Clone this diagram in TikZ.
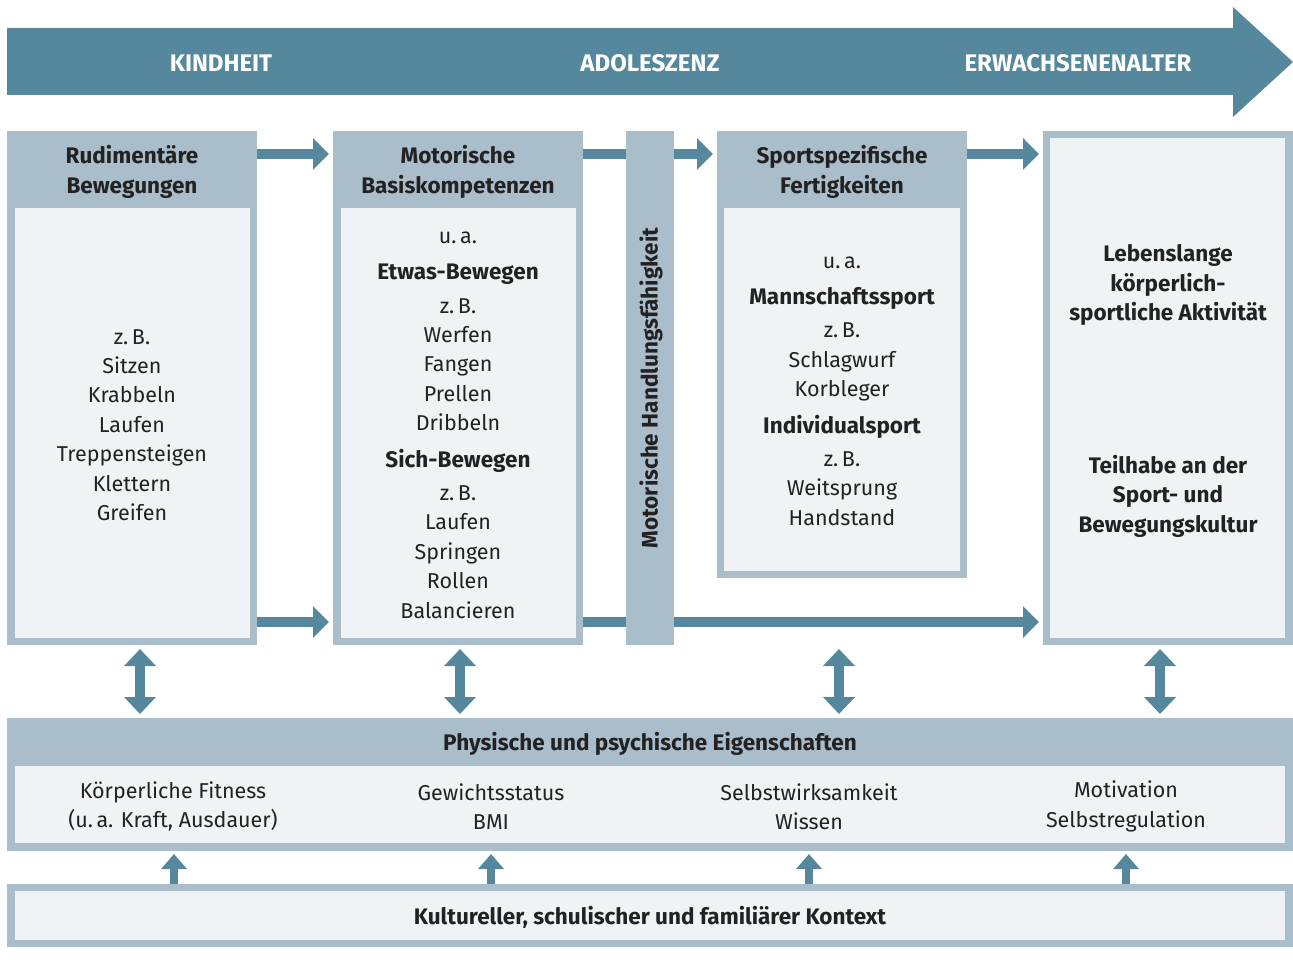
\documentclass[tikz,border=0pt]{standalone}
\usepackage{fontspec}
\setmainfont{Fira Sans}
\usetikzlibrary{arrows.meta}
\definecolor{teal}{HTML}{55889D}
\definecolor{boxc}{HTML}{AABDCB}
\definecolor{innerc}{HTML}{EFF3F6}
\definecolor{txt}{HTML}{222222}
\newcommand{\bt}[1]{{\fontsize{22.5}{29.4}\selectfont\bfseries #1}}
\tikzset{
  outerbox/.style={fill=boxc, draw=none, inner sep=0pt, anchor=north west},
  innerbox/.style={fill=innerc, draw=none},
  body/.style={font=\fontsize{21.5}{29.4}\selectfont, text=txt, align=center, inner sep=0pt},
  head/.style={font=\fontsize{22.5}{29.4}\selectfont\bfseries, text=txt, align=center, inner sep=0pt},
  age/.style={font=\fontsize{24}{28}\selectfont\bfseries, text=white, inner sep=0pt},
  arr/.style={draw=teal, line width=10pt, -{Triangle[length=16pt,width=31pt]}},
  link/.style={draw=teal, line width=10pt},
  darr/.style={draw=teal, line width=10pt, {Triangle[length=17pt,width=31pt]}-{Triangle[length=17pt,width=31pt]}},
  uarr/.style={draw=teal, line width=8pt, -{Triangle[length=15pt,width=25pt]}},
}
\begin{document}
\begin{tikzpicture}[x=1pt,y=-1pt]
\useasboundingbox (0,0) rectangle (1293,973);
% top timeline arrow
\fill[teal] (7,28) -- (1233,28) -- (1233,7) -- (1293,62) -- (1233,117) -- (1233,95) -- (7,95) -- cycle;
\node[age] (kind) at (221,63) {KINDHEIT};
\node[age] (adol) at (650,63) {ADOLESZENZ};
\node[age] (erw) at (1078,63) {ERWACHSENENALTER};

% boxes
\node[outerbox, minimum width=250pt, minimum height=514pt] (b1) at (7,131) {};
\fill[innerbox] (15,208) rectangle (250,638);
\node[outerbox, minimum width=250pt, minimum height=514pt] (b2) at (333,131) {};
\fill[innerbox] (341,208) rectangle (576,638);
\node[outerbox, minimum width=48pt, minimum height=514pt] (bar) at (626,131) {};
\node[outerbox, minimum width=250pt, minimum height=447pt] (b3) at (717,131) {};
\fill[innerbox] (724,208) rectangle (960,571);
\node[outerbox, minimum width=250pt, minimum height=514pt] (b5) at (1043,131) {};
\fill[innerbox] (1050,138) rectangle (1285,638);

% headers
\node[head] (h1) at (132,172) {Rudimentäre\\Bewegungen};
\node[head] (h2) at (458,172) {Motorische\\Basiskompetenzen};
\node[head] (h3) at (842,172) {Sportspezifische\\Fertigkeiten};
\node[head, rotate=90] (hbar) at (651,388) {Motorische Handlungsfähigkeit};

% contents
\node[body] (t1) at (132,425) {z.\,B.\\Sitzen\\Krabbeln\\Laufen\\Treppensteigen\\Klettern\\Greifen};
\node[body] (t2) at (458,425) {u.\,a.\\[7pt]\bt{Etwas-Bewegen}\\[4pt]z.\,B.\\Werfen\\Fangen\\Prellen\\Dribbeln\\[7pt]\bt{Sich-Bewegen}\\[4pt]z.\,B.\\Laufen\\Springen\\Rollen\\Balancieren};
\node[body] (t3) at (842,391) {u.\,a.\\[7pt]\bt{Mannschaftssport}\\[4pt]z.\,B.\\Schlagwurf\\Korbleger\\[7pt]\bt{Individualsport}\\[4pt]z.\,B.\\Weitsprung\\Handstand};
\node[head] (t5a) at (1168,285) {Lebenslange\\körperlich-\\sportliche Aktivität};
\node[head] (t5b) at (1168,496) {Teilhabe an der\\Sport- und\\Bewegungskultur};

% horizontal arrows
\coordinate (ya) at (0,154);
\coordinate (yb) at (0,622);
\draw[arr, shorten >=4pt] (b1.east |- ya) -- (b2.west |- ya);
\draw[arr, shorten >=4pt] (b1.east |- yb) -- (b2.west |- yb);
\draw[link] (b2.east |- ya) -- (bar.west |- ya);
\draw[link] (b2.east |- yb) -- (bar.west |- yb);
\draw[arr, shorten >=4pt] (bar.east |- ya) -- (b3.west |- ya);
\draw[arr, shorten >=4pt] (b3.east |- ya) -- (b5.west |- ya);
\draw[arr, shorten >=4pt] (bar.east |- yb) -- (b5.west |- yb);

% bottom section
\node[outerbox, minimum width=1286pt, minimum height=133pt] (pe) at (7,718) {};
\fill[innerbox] (15,766) rectangle (1285,843);
\node[head] (peh) at (650,744) {Physische und psychische Eigenschaften};
\node[body] (p1) at (173,806.5) {Körperliche Fitness\\(u.\,a. Kraft, Ausdauer)};
\node[body] (p2) at (491,806.5) {Gewichtsstatus\\BMI};
\node[body] (p3) at (809,806.5) {Selbstwirksamkeit\\Wissen};
\node[body] (p4) at (1126,806.5) {Motivation\\Selbstregulation};

\node[outerbox, minimum width=1286pt, minimum height=63pt] (kx) at (7,884) {};
\fill[innerbox] (15,891) rectangle (1285,940);
\node[head] (kxt) at (650,917) {Kultureller, schulischer und familiärer Kontext};

% vertical double arrows
\foreach \x/\n in {140/1,460/2,839/3,1160/4}{
  \coordinate (dt\n) at (\x,645);
  \coordinate (db\n) at (\x,718);
  \draw[darr, shorten <=4pt, shorten >=4pt] (dt\n) -- (db\n);
}
% up arrows
\foreach \x/\n in {174/1,491/2,809/3,1126/4}{
  \coordinate (us\n) at (\x,884);
  \coordinate (ue\n) at (\x,851);
  \draw[uarr, shorten >=3pt] (us\n) -- (ue\n);
}
\end{tikzpicture}
\end{document}
